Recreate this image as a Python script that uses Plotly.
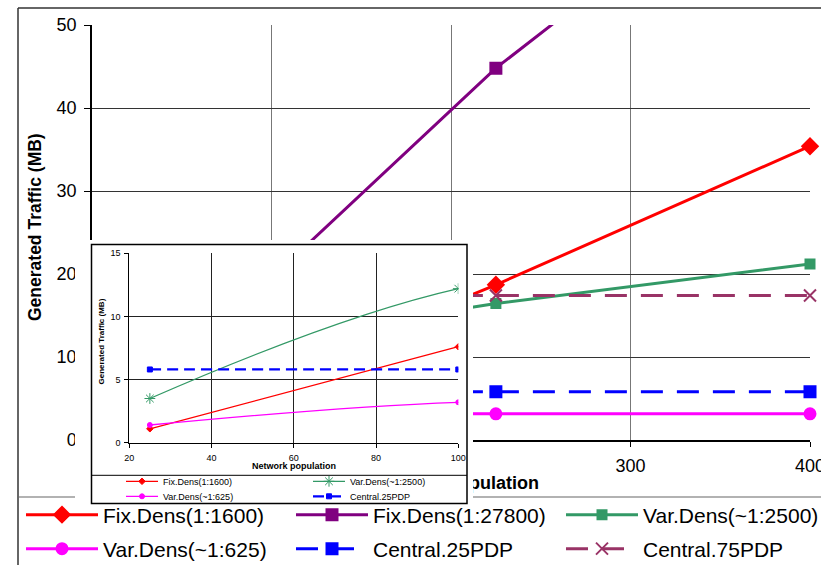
import plotly.graph_objects as go

# ---------------- data ----------------
population = [25, 100, 225, 400]
fix_dens_1600 = [1.1, 7.6, 18.7, 35.4]
fix_dens_27800 = [2.3, 19.5, 44.8, 74.2]
var_dens_2500 = [3.5, 12.2, 16.45, 21.2]
var_dens_625 = [1.4, 3.2, 3.15, 3.15]
central_25pdp = [5.8, 5.8, 5.8, 5.8]
central_75pdp = [17.4, 17.4, 17.4, 17.4]

main_x_ticks = [0, 100, 200, 300, 400]
main_y_ticks = [0, 10, 20, 30, 40, 50]
inset_x_ticks = [20, 40, 60, 80, 100]
inset_y_ticks = [0, 5, 10, 15]

series_names = ["Fix.Dens(1:1600)", "Fix.Dens(1:27800)", "Var.Dens(~1:2500)",
                "Var.Dens(~1:625)", "Central.25PDP", "Central.75PDP"]
x_title = "Network population"
y_title = "Generated Traffic (MB)"

W, H = 821, 565
FONT = "Liberation Sans, Arial, sans-serif"


def fx(px):
    return px / W


def fy(py):
    return 1 - py / H


fig = go.Figure()

# ---------------- main chart traces ----------------
main_specs = [
    (fix_dens_1600, "#FF0000", "diamond", 12, None, "legend", None),
    (fix_dens_27800, "#800080", "square", 11, None, "legend", None),
    (var_dens_2500, "#339966", "square", 9, None, "legend", 185),
    (var_dens_625, "#FF00FF", "circle", 11, None, "legend2", None),
    (central_25pdp, "#0000FF", "square", 11, "22px,14px", "legend2", None),
    (central_75pdp, "#993366", "x-thin-open", 12, "22px,14px", "legend2", 150),
]
for name, (vals, col, sym, size, dash, leg, lw) in zip(series_names, main_specs):
    fig.add_trace(go.Scatter(
        x=population, y=vals, name=name, mode="lines+markers",
        line=dict(color=col, width=3, dash=dash),
        marker=dict(symbol=sym, size=size, color=col,
                    line=dict(color=col, width=2)),
        cliponaxis=False, legend=leg, legendwidth=lw, xaxis="x", yaxis="y",
    ))

# main x-axis title, placed in a helper subplot drawn beneath the inset
fig.add_trace(go.Scatter(
    x=[0.5], y=[0.5], mode="text", text=["<b>" + x_title + "</b>"],
    textposition="middle center",
    textfont=dict(family=FONT, size=18, color="black"),
    cliponaxis=False, showlegend=False, hoverinfo="skip",
    xaxis="x2", yaxis="y2",
))

# ---------------- inset traces ----------------
inset_specs = [
    (series_names[0], fix_dens_1600, "#FF0000", "diamond", 5, None, "legend3", None),
    (series_names[2], var_dens_2500, "#339966", "asterisk-open", 9, None, "legend3", 80),
    (series_names[3], var_dens_625, "#FF00FF", "circle", 5, None, "legend4", None),
    (series_names[4], central_25pdp, "#0000FF", "square", 5, "11px,6px", "legend4", 70),
]
for name, vals, col, sym, size, dash, leg, lw in inset_specs:
    fig.add_trace(go.Scatter(
        x=population, y=vals, name=name, mode="lines+markers",
        line=dict(color=col, width=2.2 if dash else 1.3, dash=dash,
                  shape="spline", smoothing=1),
        marker=dict(symbol=sym, size=size, color=col,
                    line=dict(color=col, width=1)),
        legend=leg, legendwidth=lw, xaxis="x4", yaxis="y4",
    ))

# ---------------- layout ----------------
axis_font = dict(family=FONT, size=18, color="black")
small_font = dict(family=FONT, size=9, color="black")

leg_common = dict(orientation="h", xanchor="left", yanchor="middle",
                  bgcolor="rgba(0,0,0,0)", borderwidth=0,
                  entrywidthmode="pixels", traceorder="normal")

fig.update_layout(
    width=W, height=H, margin=dict(l=0, r=0, t=0, b=0, autoexpand=False),
    paper_bgcolor="white", plot_bgcolor="white",
    font=dict(family=FONT, color="black"),
    showlegend=True,
    # main chart
    xaxis=dict(domain=[fx(92), fx(810)], range=[0, 400], tickvals=main_x_ticks,
               showgrid=True, gridcolor="#777777", gridwidth=1,
               showline=True, linecolor="black", linewidth=1.5,
               ticks="outside", ticklen=5, tickcolor="black",
               tickfont=axis_font, ticklabelstandoff=4, zeroline=False,
               ticklabeloverflow="allow", anchor="y"),
    yaxis=dict(domain=[fy(440), fy(25)], range=[0, 50], tickvals=main_y_ticks,
               showgrid=True, gridcolor="#333333", gridwidth=1,
               showline=True, linecolor="black", linewidth=1.5,
               ticks="outside", ticklen=6, tickcolor="black",
               tickfont=axis_font, ticklabelstandoff=4, zeroline=False,
               ticklabeloverflow="allow", anchor="x"),
    # helper subplot for the main x-axis title (drawn beneath the inset)
    xaxis2=dict(domain=[fx(365), fx(545)], range=[0, 1], visible=False,
                anchor="y2", showgrid=False, zeroline=False),
    yaxis2=dict(domain=[fy(493), fy(475)], range=[0, 1], visible=False,
                anchor="x2", showgrid=False, zeroline=False),
    # cover subplot (pixel coordinates) that hides the main chart under the inset
    xaxis3=dict(domain=[fx(75), fx(473)], range=[75, 473], visible=False,
                anchor="y3", showgrid=False, zeroline=False),
    yaxis3=dict(domain=[fy(506), fy(240)], range=[506, 240], visible=False,
                anchor="x3", showgrid=False, zeroline=False),
    # inset chart
    xaxis4=dict(domain=[fx(129.3), fx(458.3)], range=[20, 100], tickvals=inset_x_ticks,
                showgrid=True, gridcolor="#222222", gridwidth=1,
                showline=True, linecolor="black", linewidth=1,
                ticks="outside", ticklen=4, tickcolor="black",
                tickfont=small_font, ticklabelstandoff=2, zeroline=False,
                anchor="y4"),
    yaxis4=dict(domain=[fy(442.7), fy(253.3)], range=[0, 15], tickvals=inset_y_ticks,
                showgrid=True, gridcolor="#222222", gridwidth=1,
                showline=True, linecolor="black", linewidth=1,
                ticks="outside", ticklen=4, tickcolor="black",
                tickfont=small_font, ticklabelstandoff=2, zeroline=False,
                anchor="x4"),
    legend=dict(x=fx(21), y=fy(515), font=dict(family=FONT, size=21, color="black"),
                itemwidth=72, entrywidth=183, **leg_common),
    legend2=dict(x=fx(21), y=fy(549), font=dict(family=FONT, size=21, color="black"),
                 itemwidth=72, entrywidth=183, **leg_common),
    legend3=dict(x=fx(121), y=fy(481.3), font=dict(family=FONT, size=9, color="black"),
                 itemwidth=32, entrywidth=140, **leg_common),
    legend4=dict(x=fx(121), y=fy(496.3), font=dict(family=FONT, size=9, color="black"),
                 itemwidth=32, entrywidth=140, **leg_common),
)

# ---------------- frame / cover shapes ----------------
shapes = [
    # outer chart frame (left & top) and legend box top line
    dict(type="line", xref="paper", yref="paper", x0=fx(18), x1=fx(18), y0=0, y1=fy(8),
         line=dict(color="#333333", width=1.5), layer="below"),
    dict(type="line", xref="paper", yref="paper", x0=fx(18), x1=1, y0=fy(8), y1=fy(8),
         line=dict(color="#333333", width=1.5), layer="below"),
    dict(type="line", xref="paper", yref="paper", x0=fx(18), x1=1, y0=fy(497), y1=fy(497),
         line=dict(color="#666666", width=1.2), layer="below"),
    # inset: white cover, border, legend separator
    dict(type="rect", xref="x3", yref="y3", x0=75, x1=473, y0=240, y1=506,
         fillcolor="white", line=dict(width=0), layer="below"),
    dict(type="rect", xref="x3", yref="y3", x0=91.5, x1=467, y0=244.5, y1=503.5,
         fillcolor="white", line=dict(color="black", width=1.5), layer="below"),
    dict(type="line", xref="x3", yref="y3", x0=91.5, x1=467, y0=475.3, y1=475.3,
         line=dict(color="black", width=1), layer="below"),
]
fig.update_layout(shapes=shapes)

annotations = [
    dict(text="<b>" + y_title + "</b>", xref="paper", yref="paper",
         x=fx(35), y=fy(227), textangle=-90, showarrow=False,
         font=dict(family=FONT, size=17.5, color="black"),
         xanchor="center", yanchor="middle"),
    dict(text="<b>" + y_title + "</b>", xref="paper", yref="paper",
         x=fx(100.5), y=fy(342), textangle=-90, showarrow=False,
         font=dict(family=FONT, size=8, color="black"),
         xanchor="center", yanchor="middle"),
    dict(text="<b>" + x_title + "</b>", xref="paper", yref="paper",
         x=fx(294), y=fy(465.5), showarrow=False,
         font=dict(family=FONT, size=9, color="black"),
         xanchor="center", yanchor="middle"),
]
fig.update_layout(annotations=annotations)

fig.write_html("out.html", config={"displayModeBar": False},
               post_script="document.body.style.margin='0';document.body.style.overflow='hidden';")
